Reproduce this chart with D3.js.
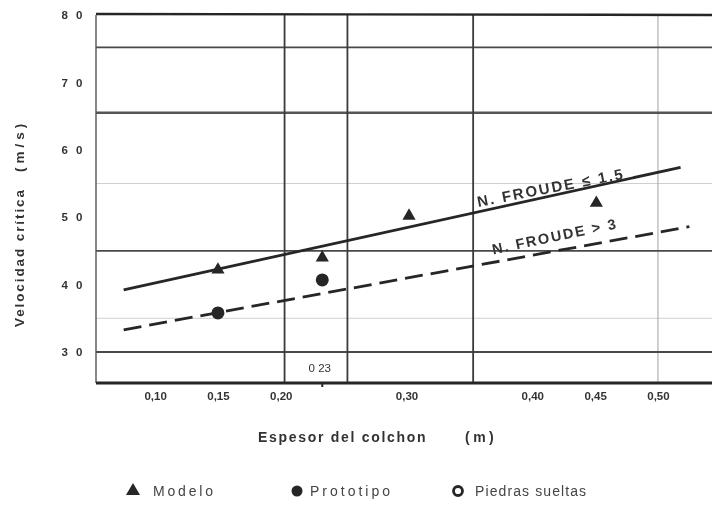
<!DOCTYPE html>
<html><head><meta charset="utf-8">
<script src="https://cdn.jsdelivr.net/npm/d3@7/dist/d3.min.js"></script>
<style>
html,body{margin:0;padding:0;background:#fff;}
svg{display:block;font-family:"Liberation Sans",Arial,sans-serif;}
</style></head>
<body><svg id="c" width="712" height="507"></svg>
<script>
// ---- data ----
const yTicks = [3, 4, 5, 6, 7, 8];
const yTickLabels = ["3 0", "4 0", "5 0", "6 0", "7 0", "8 0"];
const xTicks = [0.10, 0.15, 0.20, 0.30, 0.40, 0.45, 0.50];
const xTickLabels = ["0,10", "0,15", "0,20", "0,30", "0,40", "0,45", "0,50"];
const hGridDark = [7.52, 6.55, 4.5, 3.0];
const hGridFaint = [5.5, 3.5];
const vGridDark = [0.203, 0.253, 0.353];
const vGridFaint = [0.50];
const modeloX = [0.15, 0.233, 0.302, 0.451];
const modeloY = [4.22, 4.40, 5.02, 5.21];
const prototipoX = [0.15, 0.233];
const prototipoY = [3.58, 4.07];
const froudeLowX = [0.075, 0.518];
const froudeLowY = [3.92, 5.74];
const froudeHighX = [0.075, 0.525];
const froudeHighY = [3.33, 4.86];
const legendLabels = ["Modelo", "Prototipo", "Piedras sueltas"];

// ---- scales ----
const svg = d3.select("#c");
const defs = svg.append("defs");
defs.append("filter").attr("id", "scan").append("feGaussianBlur").attr("stdDeviation", 0.55);
const root = svg.append("g").attr("filter", "url(#scan)");
const x = d3.scaleLinear().domain([0.053, 0.543]).range([96, 712]);
const y = d3.scaleLinear().domain([2.54, 8.0]).range([383, 15]);
const ink = "#262626";

// grid
root.append("g").selectAll("line").data(hGridFaint).join("line")
  .attr("x1", x(0.053)).attr("x2", 712).attr("y1", d => y(d)).attr("y2", d => y(d))
  .attr("stroke", "#cfcfcf").attr("stroke-width", 1);
root.append("g").selectAll("line").data(vGridFaint).join("line")
  .attr("x1", d => x(d)).attr("x2", d => x(d)).attr("y1", y(8.0)).attr("y2", y(2.54))
  .attr("stroke", "#b0b0b0").attr("stroke-width", 1.2);
root.append("g").selectAll("line").data(hGridDark).join("line")
  .attr("x1", x(0.053)).attr("x2", 712).attr("y1", d => y(d)).attr("y2", d => y(d))
  .attr("stroke", (d, i) => i === 1 ? "#555" : "#4a4a4a")
  .attr("stroke-width", (d, i) => i === 1 ? 2.6 : 1.8);
root.append("g").selectAll("line").data(vGridDark).join("line")
  .attr("x1", d => x(d)).attr("x2", d => x(d)).attr("y1", y(8.0)).attr("y2", y(2.54))
  .attr("stroke", "#3a3a3a").attr("stroke-width", 1.8);

// frame: top, left, bottom
root.append("line").attr("x1", x(0.053)).attr("x2", 712).attr("y1", y(8.0) - 1).attr("y2", y(8.0))
  .attr("stroke", ink).attr("stroke-width", 2.4);
root.append("line").attr("x1", x(0.053)).attr("x2", x(0.053)).attr("y1", y(8.0)).attr("y2", y(2.54))
  .attr("stroke", "#555").attr("stroke-width", 1.4);
root.append("line").attr("x1", x(0.053)).attr("x2", 712).attr("y1", y(2.54)).attr("y2", y(2.54))
  .attr("stroke", ink).attr("stroke-width", 3);

// axes (labels only)
const yAxis = d3.axisLeft(y).tickValues(yTicks).tickSize(0)
  .tickFormat((d, i) => yTickLabels[i]);
const gy = root.append("g").attr("transform", `translate(${x(0.053) - 8},0)`).call(yAxis);
gy.select(".domain").remove();
gy.selectAll("text").attr("font-size", 11.5).attr("font-weight", "bold").attr("fill", "#333")
  .attr("letter-spacing", "2.5px").attr("font-family", "Liberation Sans, Arial, sans-serif");

const xAxis = d3.axisBottom(x).tickValues(xTicks).tickSize(0)
  .tickFormat((d, i) => xTickLabels[i]);
const gx = root.append("g").attr("transform", `translate(0,${y(2.54) + 6})`).call(xAxis);
gx.select(".domain").remove();
gx.selectAll("text").attr("font-size", 11.5).attr("font-weight", "bold").attr("fill", "#333")
  .attr("font-family", "Liberation Sans, Arial, sans-serif");

// 0 23 label
root.append("text").attr("x", x(0.231)).attr("y", y(2.54) - 11).attr("text-anchor", "middle")
  .attr("font-size", 11.5).attr("fill", "#333").text("0 23");
root.append("line").attr("x1", x(0.233)).attr("x2", x(0.233)).attr("y1", y(2.54)).attr("y2", y(2.54) + 4)
  .attr("stroke", ink).attr("stroke-width", 2);

// trend lines
const lineGen = d3.line().x(d => x(d[0])).y(d => y(d[1]));
root.append("path").datum(froudeLowX.map((v, i) => [v, froudeLowY[i]]))
  .attr("d", lineGen).attr("stroke", ink).attr("stroke-width", 2.8).attr("fill", "none");
root.append("path").datum(froudeHighX.map((v, i) => [v, froudeHighY[i]]))
  .attr("d", lineGen).attr("stroke", ink).attr("stroke-width", 2.8).attr("fill", "none")
  .attr("stroke-dasharray", "18,8");

// line labels
function angleOf(xs, ys) {
  const dx = x(xs[1]) - x(xs[0]), dy = y(ys[1]) - y(ys[0]);
  return Math.atan2(dy, dx) * 180 / Math.PI;
}
function lineY(xs, ys, v) { return ys[0] + (ys[1] - ys[0]) * (v - xs[0]) / (xs[1] - xs[0]); }
const a1 = angleOf(froudeLowX, froudeLowY) + 1.5;
root.append("text")
  .attr("transform", `translate(${x(0.357)},${y(lineY(froudeLowX, froudeLowY, 0.357)) - 5}) rotate(${a1})`)
  .attr("font-size", 15).attr("font-weight", "bold").attr("fill", "#333").attr("letter-spacing", "2px")
  .text("N. FROUDE ≤ 1,5");
const a2 = angleOf(froudeHighX, froudeHighY) - 1.5;
root.append("text")
  .attr("transform", `translate(${x(0.369)},${y(lineY(froudeHighX, froudeHighY, 0.369)) - 8}) rotate(${a2})`)
  .attr("font-size", 14.5).attr("font-weight", "bold").attr("fill", "#333").attr("letter-spacing", "1.8px")
  .text("N. FROUDE > 3");

// markers
const tri = d3.symbol().type(d3.symbolTriangle).size(75);
root.append("g").selectAll("path").data(modeloX.map((v, i) => [v, modeloY[i]])).join("path")
  .attr("d", tri).attr("transform", d => `translate(${x(d[0])},${y(d[1])})`).attr("fill", ink);
root.append("g").selectAll("circle").data(prototipoX.map((v, i) => [v, prototipoY[i]])).join("circle")
  .attr("cx", d => x(d[0])).attr("cy", d => y(d[1])).attr("r", 6.5).attr("fill", ink);

// axis titles
root.append("text").attr("transform", "translate(24,327) rotate(-90)")
  .attr("font-size", 13.5).attr("font-weight", "bold").attr("fill", "#333").attr("letter-spacing", "1.9px")
  .text("Velocidad crítica");
root.append("text").attr("transform", "translate(24,172) rotate(-90)")
  .attr("font-size", 13.5).attr("font-weight", "bold").attr("fill", "#333").attr("letter-spacing", "4px")
  .text("(m/s)");
root.append("text").attr("x", 258).attr("y", 442)
  .attr("font-size", 14).attr("fill", "#333").attr("font-weight", "bold").attr("letter-spacing", "1.7px")
  .text("Espesor del colchon");
root.append("text").attr("x", 465).attr("y", 442)
  .attr("font-size", 14).attr("fill", "#333").attr("font-weight", "bold").attr("letter-spacing", "3.5px")
  .text("(m)");

// legend
const lg = root.append("g");
const legX = [133, 297, 458];
const legTextX = [153, 310, 475];
const legSpacing = [2.8, 3.0, 1.1];
lg.append("path").attr("d", d3.symbol().type(d3.symbolTriangle).size(85))
  .attr("transform", `translate(${legX[0]},491)`).attr("fill", ink);
lg.append("circle").attr("cx", legX[1]).attr("cy", 491).attr("r", 5.5).attr("fill", ink);
lg.append("circle").attr("cx", legX[2]).attr("cy", 491).attr("r", 4.5).attr("fill", "none")
  .attr("stroke", ink).attr("stroke-width", 2.8);
lg.selectAll("text").data(legendLabels).join("text")
  .attr("x", (d, i) => legTextX[i]).attr("y", 496).attr("font-size", 14).attr("fill", "#444")
  .attr("letter-spacing", (d, i) => legSpacing[i] + "px")
  .text(d => d);
</script></body></html>
